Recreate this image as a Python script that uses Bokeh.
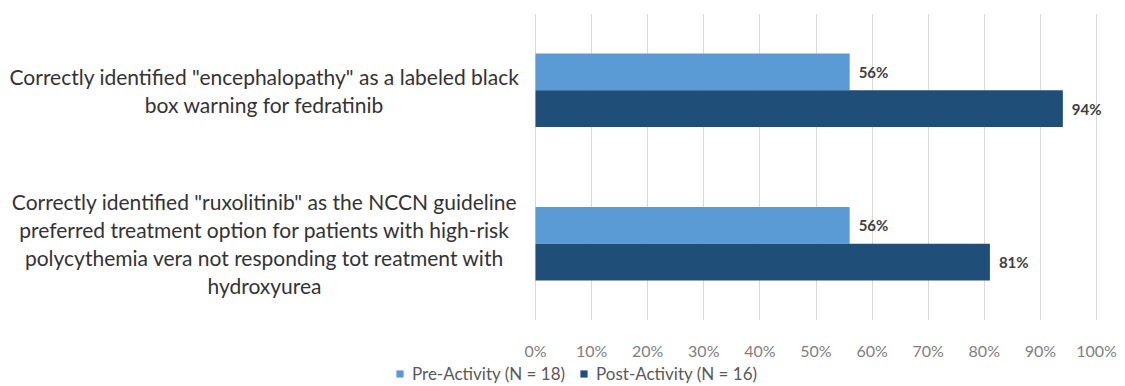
from bokeh.plotting import figure
from bokeh.layouts import column
from bokeh.models import (ColumnDataSource, Range1d, LabelSet, Legend, LegendItem,
                          FixedTicker)
from bokeh.core.properties import value
from bokeh.embed import file_html
from bokeh.resources import INLINE

categories = [
    'Correctly identified "encephalopathy" as a labeled black\nbox warning for fedratinib',
    'Correctly identified "ruxolitinib" as the NCCN guideline\npreferred treatment option for patients with high-risk\npolycythemia vera not responding tot reatment with\nhydroxyurea',
]
pre_values = [56, 56]
post_values = [94, 81]
series_names = ["Pre-Activity (N = 18)", "Post-Activity (N = 16)"]
x_ticks = [0, 10, 20, 30, 40, 50, 60, 70, 80, 90, 100]

PRE_COLOR = "#5B9BD5"
POST_COLOR = "#1F4E79"
FONT = "Lato"

# layout (pixels)
W, H = 1125, 386
H1 = 362
ZERO_PX, FULL_PX = 535, 1096
LABEL_CENTER_PX = 264
px_per_unit = (FULL_PX - ZERO_PX) / 100.0
x_left = -ZERO_PX / px_per_unit
x_right = 100 + (W - FULL_PX) / px_per_unit
label_x = (LABEL_CENTER_PX - ZERO_PX) / px_per_unit

n = len(categories)
cat_y = [n - 1 - i for i in range(n)]  # first category on top
bar_h = 0.24

pre_src = ColumnDataSource(dict(y=[c + bar_h / 2 for c in cat_y], v=pre_values,
                                lab=[f"{v}%" for v in pre_values]))
post_src = ColumnDataSource(dict(y=[c - bar_h / 2 for c in cat_y], v=post_values,
                                 lab=[f"{v}%" for v in post_values]))
cat_src = ColumnDataSource(dict(y=cat_y, text=categories, x=[label_x] * n))

p = figure(width=W, height=H1, output_backend="svg", toolbar_location=None,
           x_range=Range1d(x_left, x_right), y_range=Range1d(-0.5, n - 0.5),
           min_border_left=0, min_border_right=0, min_border_top=13,
           min_border_bottom=40)
p.outline_line_color = None
p.background_fill_color = "white"
p.border_fill_color = "white"

r_pre = p.hbar(y="y", right="v", left=0, height=bar_h, source=pre_src,
               fill_color=PRE_COLOR, line_color=None)
r_post = p.hbar(y="y", right="v", left=0, height=bar_h, source=post_src,
                fill_color=POST_COLOR, line_color=None)

for src in (pre_src, post_src):
    p.add_layout(LabelSet(x="v", y="y", text="lab", source=src, x_offset=9,
                          text_baseline="middle", text_font=value(FONT),
                          text_font_style="bold", text_font_size="15px",
                          text_color="#404040"))

p.text(x="x", y="y", text="text", source=cat_src, text_align="center",
       text_baseline="middle", text_font=value(FONT), text_font_size="21px",
       text_color="#333333", text_line_height=1.12)

# axes
p.yaxis.visible = False
p.ygrid.visible = False
xa = p.xaxis[0]
xa.ticker = FixedTicker(ticks=x_ticks)
xa.major_label_overrides = {t: f"{t}%" for t in x_ticks}
xa.axis_line_color = None
xa.major_tick_line_color = None
xa.minor_tick_line_color = None
xa.major_label_standoff = 14
xa.major_label_text_font = FONT
xa.major_label_text_font_size = "16px"
xa.major_label_text_color = "#808080"
p.xgrid.ticker = FixedTicker(ticks=x_ticks)
p.xgrid.grid_line_color = "#d9d9d9"
p.xgrid.grid_line_width = 1

# legend strip below (legend proxies lie outside the visible range)
q = figure(width=W, height=H - H1, output_backend="svg", toolbar_location=None,
           x_range=Range1d(0, 1), y_range=Range1d(0, 1),
           min_border_left=0, min_border_right=0, min_border_top=0, min_border_bottom=0)
q.axis.visible = False
q.grid.visible = False
q.outline_line_color = None
lr_pre = q.hbar(y=[-5], right=[1], left=0, height=1, fill_color=PRE_COLOR, line_color=None)
lr_post = q.hbar(y=[-5], right=[1], left=0, height=1, fill_color=POST_COLOR, line_color=None)
legend = Legend(items=[LegendItem(label=series_names[0], renderers=[lr_pre]),
                       LegendItem(label=series_names[1], renderers=[lr_post])],
                orientation="horizontal", location=(395, 2),
                glyph_width=9, glyph_height=9, label_text_font=FONT,
                label_text_font_size="17px", label_text_color="#595959",
                spacing=14, padding=0, margin=0, label_standoff=8,
                background_fill_alpha=0, border_line_color=None)
q.add_layout(legend, "center")

layout = column(p, q, spacing=0)
open("out.html", "w").write(file_html(layout, INLINE))
